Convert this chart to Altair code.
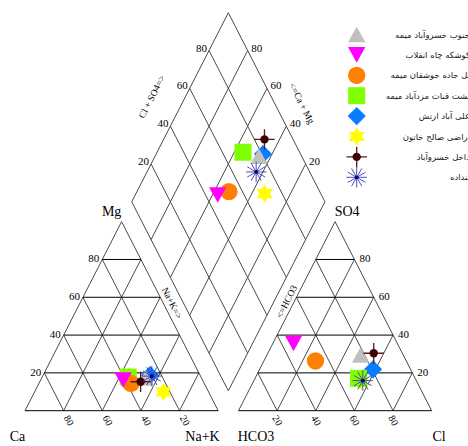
import altair as alt
import numpy as np
import pandas as pd

# ---- sampling sites and their ionic composition (% of meq/L) ----
sites = [
    "جنوب خسروآباد میمه",
    "کوشکه چاه انقلاب",
    "پل جاده جوشقان میمه",
    "پشت قنات مزدآباد میمه",
    "علی آباد ارتش",
    "اراضی صالح خاتون",
    "داخل خسروآباد",
    "پنداده",
]
mg_pct = [17.3, 16.2, 14.5, 17.8, 18.9, 10.0, 15.3, 18.3]
nak_pct = [53.8, 42.7, 47.6, 44.5, 55.3, 66.7, 52.2, 56.5]
so4_pct = [29.5, 35.6, 26.3, 17.1, 21.9, 15.5, 30.4, 15.9]
cl_pct = [48.4, 10.7, 26.7, 53.6, 58.7, 55.5, 54.8, 56.4]

grid_steps = [20, 40, 60, 80]

# ---- marker styles per site ----
TRI_UP = "M0,-0.9L1,0.9L-1,0.9Z"
TRI_DOWN = "M-1,-0.9L1,-0.9L0,0.9Z"
HEXAGRAM = ("M0,-1L0.289,-0.5L0.866,-0.5L0.577,0L0.866,0.5L0.289,0.5L0,1"
            "L-0.289,0.5L-0.866,0.5L-0.577,0L-0.866,-0.5L-0.289,-0.5Z")
CROSS = "M-1,0L1,0M0,-1L0,1"
ASTERISK = ("M0,-1L0,1M-1,0L1,0M-0.5,-0.866L0.5,0.866M0.5,-0.866L-0.5,0.866"
            "M-0.866,-0.5L0.866,0.5M0.866,-0.5L-0.866,0.5")

styles = [
    dict(shape=TRI_UP, size=300, fill="#C0C0C0"),
    dict(shape=TRI_DOWN, size=300, fill="#FF00FF"),
    dict(shape="circle", size=300, fill="#FF8000"),
    dict(shape="square", size=290, fill="#80FF00"),
    dict(shape="diamond", size=330, fill="#0A7CFF"),
    dict(shape=HEXAGRAM, size=340, fill="#FFFF00"),
    None,  # dot with cross hair
    None,  # asterisk
]
BROWN = "#3D0000"
NAVY = "#3A3AB0"

# ---- Piper geometry (triangle side = 100 units) ----
SIDE, GAP = 100.0, 10.5
H = np.sqrt(3) / 2
W, HT = 468, 446
X0, Y0 = 25.0, 410.7      # pixel position of the Ca corner
KX, KY = 1.932, 2.183     # pixels per unit, horizontal / vertical
XDOM = [-X0 / KX, (W - X0) / KX]
YDOM = [(Y0 - HT) / KY, Y0 / KY]


def cation_pt(mg, nak):
    return (nak + mg / 2, mg * H)


def anion_pt(so4, cl):
    return (SIDE + GAP + cl + so4 / 2, so4 * H)


def diamond_pt(camg, clso4):
    bx, by = SIDE + GAP / 2, GAP * H
    return (bx + (clso4 - camg) / 2, by + (clso4 + camg) * H)


def shift(pt, dxp, dyp):
    return (pt[0] + dxp / KX, pt[1] - dyp / KY)


def X(field="x"):
    return alt.X(f"{field}:Q", scale=alt.Scale(domain=XDOM, nice=False, zero=False), axis=None)


def Y(field="y"):
    return alt.Y(f"{field}:Q", scale=alt.Scale(domain=YDOM, nice=False, zero=False), axis=None)


# ---- grid and outline segments ----
flat, slant = [], []


def seg(store, p, q):
    store.append(dict(x=p[0], y=p[1], x2=q[0], y2=q[1]))


for k in [0] + grid_steps:
    # cation triangle
    seg(flat, cation_pt(k, 0), cation_pt(k, 100 - k))
    seg(slant, cation_pt(0, k), cation_pt(100 - k, k))
    seg(slant, cation_pt(0, 100 - k), cation_pt(100 - k, 0))
    # anion triangle
    seg(flat, anion_pt(k, 0), anion_pt(k, 100 - k))
    seg(slant, anion_pt(0, k), anion_pt(100 - k, k))
    seg(slant, anion_pt(0, 100 - k), anion_pt(100 - k, 0))
for k in [0] + grid_steps + [100]:
    seg(slant, diamond_pt(k, 0), diamond_pt(k, 100))
    seg(slant, diamond_pt(0, k), diamond_pt(100, k))

flat_df = pd.DataFrame(flat)
slant_df = pd.DataFrame(slant)


def rules(df, color, width):
    return alt.Chart(df).mark_rule(color=color, strokeWidth=width).encode(
        x=X(), y=Y(), x2="x2:Q", y2="y2:Q")


# ---- text labels ----
def lab(rows, pt, text):
    rows.append(dict(x=pt[0], y=pt[1], label=text))


mg_ticks, so4_ticks, ca_ticks, cl_ticks, dl_ticks, dr_ticks = [], [], [], [], [], []
for k in grid_steps:
    lab(mg_ticks, shift(cation_pt(k, 0), -3, 0), str(k))
    lab(so4_ticks, shift(anion_pt(k, 100 - k), 5, 0), str(k))
    lab(ca_ticks, shift(cation_pt(0, 100 - k), 5, 10), str(k))
    lab(cl_ticks, shift(anion_pt(0, k), 0, 10), str(k))
    lab(dl_ticks, shift(diamond_pt(100, k), -2, -2), str(k))
    lab(dr_ticks, shift(diamond_pt(k, 100), 3.5, -2), str(k))

corner = []
lab(corner, shift(cation_pt(100, 0), -10, -10), "Mg")
lab(corner, shift(anion_pt(100, 0), 12, -10), "SO4")
lab(corner, shift(cation_pt(0, 0), -7.5, 26), "Ca")
lab(corner, shift(cation_pt(0, 100), -15.7, 26), "Na+K")
lab(corner, shift(anion_pt(0, 0), 17.5, 26), "HCO3")
lab(corner, shift(anion_pt(0, 100), 7.3, 26), "Cl")

up_names, down_names = [], []
lab(up_names, shift(diamond_pt(100, 50), -28, -10.5), "Cl + SO4=>")
lab(down_names, shift(diamond_pt(50, 100), 25, -4), "<=Ca + Mg")
lab(down_names, shift(cation_pt(50, 50), 2, -13), "Na+K=>")
lab(up_names, shift(anion_pt(50, 0), 0, -14.5), "<=HCO3")

SERIF = "'Liberation Serif', 'Times New Roman', serif"


def texts(rows, size, font=SERIF, **kw):
    return alt.Chart(pd.DataFrame(rows)).mark_text(
        fontSize=size, font=font, color="black", **kw
    ).encode(x=X(), y=Y(), text="label:N")


# ---- sample positions in the three fields ----
pts = []
for i, s in enumerate(sites):
    c = cation_pt(mg_pct[i], nak_pct[i])
    a = anion_pt(so4_pct[i], cl_pct[i])
    d = diamond_pt(100 - nak_pct[i], so4_pct[i] + cl_pct[i])
    for p in (c, a, d):
        pts.append(dict(site=s, x=p[0], y=p[1]))
pts_df = pd.DataFrame(pts)

# legend rows (symbol column and right-aligned names)
leg = []
for i, s in enumerate(sites):
    py = 34.5 + 20.4 * i
    leg.append(dict(site=s, x=(356.7 - X0) / KX, y=(Y0 - py) / KY,
                    lx=(470 - X0) / KX, label=s))
leg_df = pd.DataFrame(leg)


def site_layers(df):
    out = []
    draw_order = [5, 4, 0, 3, 2, 1, 6, 7]
    for i in draw_order:
        sub = df[df.site == sites[i]]
        st = styles[i]
        if st is not None:
            out.append(alt.Chart(sub).mark_point(
                shape=st["shape"], size=st["size"], filled=True, fill=st["fill"],
                strokeWidth=0, opacity=1).encode(x=X(), y=Y()))
        elif i == 6:
            out.append(alt.Chart(sub).mark_point(
                shape=CROSS, size=420, filled=False, stroke="#5A1A1A",
                strokeWidth=1.3, opacity=1).encode(x=X(), y=Y()))
            out.append(alt.Chart(sub).mark_point(
                shape="circle", size=70, filled=True, fill=BROWN,
                strokeWidth=0, opacity=1).encode(x=X(), y=Y()))
        else:
            out.append(alt.Chart(sub).mark_point(
                shape=ASTERISK, size=420, filled=False, stroke=NAVY,
                strokeWidth=0.9, opacity=1).encode(x=X(), y=Y()))
            out.append(alt.Chart(sub).mark_point(
                shape="circle", size=14, filled=True, fill="#000080",
                strokeWidth=0, opacity=1).encode(x=X(), y=Y()))
    return out


legend_names = alt.Chart(leg_df).mark_text(
    fontSize=8.5, font="'DejaVu Serif', 'DejaVu Sans', serif", color="#222",
    align="right", baseline="middle", clip=True
).encode(x=X("lx"), y=Y(), text="label:N")

layers = [
    rules(slant_df, "#4a4a4a", 1),
    rules(flat_df, "#000000", 1),
    texts(mg_ticks, 11, align="right", baseline="middle"),
    texts(so4_ticks, 11, align="left", baseline="middle"),
    texts(ca_ticks, 10, align="center", baseline="middle", angle=60),
    texts(cl_ticks, 10, align="center", baseline="middle", angle=60),
    texts(dl_ticks, 11, align="right", baseline="middle"),
    texts(dr_ticks, 11, align="left", baseline="middle"),
    texts(corner, 14, align="center", baseline="middle"),
    texts(up_names, 9.5, align="center", baseline="middle", angle=297),
    texts(down_names, 9.5, align="center", baseline="middle", angle=63),
]
layers += site_layers(pts_df)
layers += site_layers(leg_df)
layers.append(legend_names)

chart = alt.layer(*layers).properties(
    width=W, height=HT, padding=0,
    autosize=alt.AutoSizeParams(type="none"),
    background="white",
).configure_view(stroke=None)

chart.save("out.html", embed_options={"renderer": "svg", "actions": False})
